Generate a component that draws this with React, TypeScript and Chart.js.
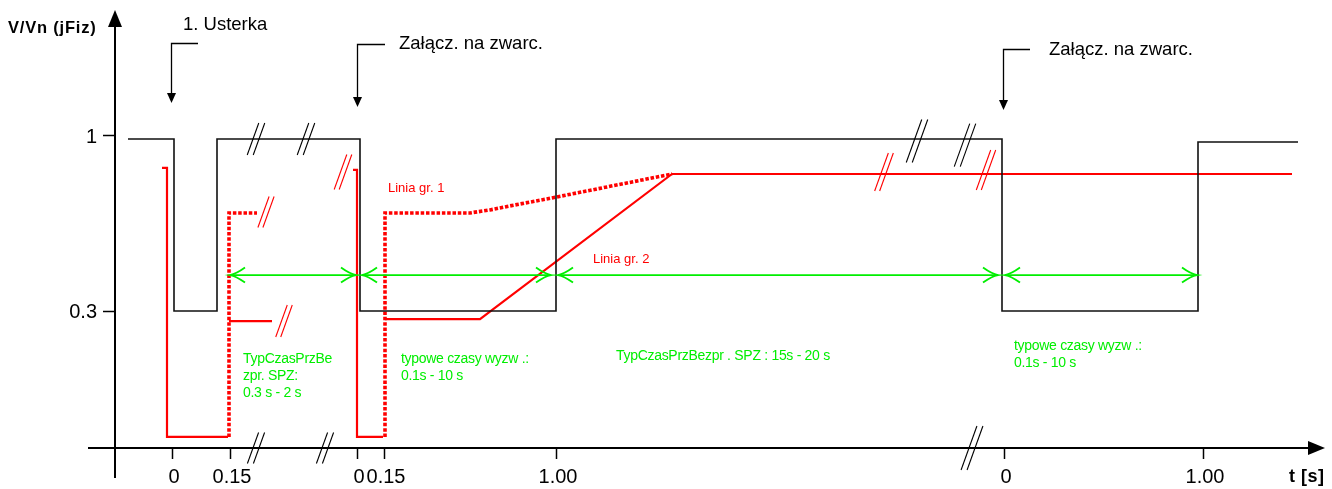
import React, { useEffect, useRef } from 'react';
import { Chart, registerables } from 'chart.js';

Chart.register(...registerables);

// Schematic (broken) time axis: position along the diagram, origin at the V/Vn axis.
// Vertical: V/Vn level.

// Voltage V/Vn (black)
const signalT = [13, 59, 59, 102, 102, 245, 245, 441, 441, 887, 887, 1083, 1083, 1183];
const signalV = [0.984, 0.984, 0.3, 0.3, 0.984, 0.984, 0.3, 0.3, 0.984, 0.984, 0.3, 0.3, 0.972, 0.972];

// Red: trip / limit lines
const trip1T = [47, 52, 52, 113];
const trip1V = [0.869, 0.869, -0.201, -0.201];
const reclose1T = [114, 114, 142];
const reclose1V = [-0.201, 0.69, 0.69];
const limit2aT = [114, 157];
const limit2aV = [0.26, 0.26];
const trip2T = [238, 242, 242, 268];
const trip2V = [0.861, 0.861, -0.201, -0.201];
const limit1T = [270, 270, 355, 375, 395, 441, 557];
const limit1V = [-0.201, 0.69, 0.69, 0.702, 0.718, 0.753, 0.845];
const limit2T = [270, 365, 557, 1177];
const limit2V = [0.268, 0.268, 0.845, 0.845];

// Green time spans
const spanStart = [115, 247, 443, 890];
const spanEnd = [241, 436, 883, 1082];
const spanLevel = 0.443;

// Axis ticks
const xTickPos = [57, 115, 242, 269, 441, 889, 1088];
const xTickLabels = ['0', '0.15', '0', '0.15', '1.00', '0', '1.00'];
const yTickValues = [1, 0.3];
const yTickLabels = ['1', '0.3'];
const axisLevel = -0.245;

// Break marks "//"
const breakBlackT = [141, 191, 802, 850, 141, 210, 857];
const breakBlackV = [0.984, 0.984, 0.976, 0.96, -0.245, -0.245, -0.245];
const breakBlackLen = [32, 32, 43, 43, 31, 31, 44];
const breakRedT = [228, 151, 169, 769, 871];
const breakRedV = [0.853, 0.694, 0.26, 0.853, 0.861];
const breakRedLen = [35, 31, 32, 38, 40];

// Callouts
const calloutT = [56, 242, 888];
const calloutV = [1.366, 1.362, 1.342];
const calloutTipV = [1.127, 1.111, 1.099];
const calloutArmT = [83, 270, 915];
const calloutText = ['1. Usterka', 'Załącz. na zwarc.', 'Załącz. na zwarc.'];
const calloutTextT = [68, 284, 934];
const calloutTextV = [1.418, 1.342, 1.318];

// Green notes
const noteLines = [
  'TypCzasPrzBe', 'zpr. SPZ:', '0.3 s - 2 s',
  'typowe czasy wyzw .:', '0.1s - 10 s',
  'TypCzasPrzBezpr . SPZ : 15s - 20 s',
  'typowe czasy wyzw .:', '0.1s - 10 s',
];
const noteT = [128, 128, 128, 286, 286, 501, 899, 899];
const noteV = [0.093, 0.025, -0.042, 0.093, 0.025, 0.105, 0.145, 0.077];

// Red labels
const redLabels = ['Linia gr. 1', 'Linia gr. 2'];
const redLabelT = [273, 478];
const redLabelV = [0.773, 0.491];

const FONT = '"Liberation Sans", Arial, sans-serif';
const RED = '#ff0000';
const GREEN = 'rgb(0,238,0)';

const pts = (t: number[], v: number[]) => t.map((x, i) => ({ x, y: v[i] }));

const overlay = {
  id: 'overlay',
  beforeDatasetsDraw(chart: any) {
    const { ctx } = chart;
    const sx = chart.scales.x;
    const sy = chart.scales.y;
    const X = (v: number) => sx.getPixelForValue(v);
    const Y = (v: number) => sy.getPixelForValue(v);
    ctx.save();
    ctx.strokeStyle = '#000';
    ctx.fillStyle = '#000';
    ctx.lineWidth = 2;
    const ay = Y(axisLevel);
    const xLeft = X(-27);
    const xRight = X(1210);
    ctx.beginPath();
    ctx.moveTo(xLeft, ay);
    ctx.lineTo(xRight - 14, ay);
    ctx.stroke();
    ctx.beginPath();
    ctx.moveTo(xRight, ay);
    ctx.lineTo(xRight - 17, ay - 7);
    ctx.lineTo(xRight - 17, ay + 7);
    ctx.closePath();
    ctx.fill();
    const ax = X(0);
    const yTop = Y(1.497);
    const yBot = Y(-0.364);
    ctx.beginPath();
    ctx.moveTo(ax, yBot);
    ctx.lineTo(ax, yTop + 14);
    ctx.stroke();
    ctx.beginPath();
    ctx.moveTo(ax, yTop);
    ctx.lineTo(ax - 7, yTop + 17);
    ctx.lineTo(ax + 7, yTop + 17);
    ctx.closePath();
    ctx.fill();

    // ticks
    ctx.lineWidth = 1.5;
    ctx.font = `20px ${FONT}`;
    ctx.textAlign = 'center';
    ctx.textBaseline = 'alphabetic';
    xTickPos.forEach((p, i) => {
      const px = Math.round(X(p)) + 0.5;
      ctx.beginPath();
      ctx.moveTo(px, ay);
      ctx.lineTo(px, ay + 11);
      ctx.stroke();
      ctx.fillText(xTickLabels[i], X(p) + 2, ay + 35);
    });
    ctx.textAlign = 'right';
    yTickValues.forEach((v, i) => {
      const py = Math.round(Y(v)) + 0.5;
      ctx.beginPath();
      ctx.moveTo(ax - 12, py);
      ctx.lineTo(ax, py);
      ctx.stroke();
      ctx.fillText(yTickLabels[i], ax - 18, Y(v) + 7.5);
    });

    // axis titles
    ctx.font = `bold 16.5px ${FONT}`;
    ctx.textAlign = 'left';
    (ctx as any).letterSpacing = '0.8px';
    ctx.fillText('V/Vn (jFiz)', X(-107), Y(1.406));
    (ctx as any).letterSpacing = '0.5px';
    ctx.font = `bold 18px ${FONT}`;
    ctx.fillText('t [s]', X(1174), Y(-0.38));
    (ctx as any).letterSpacing = '0px';
    ctx.restore();
  },
  afterDatasetsDraw(chart: any) {
    const { ctx } = chart;
    const sx = chart.scales.x;
    const sy = chart.scales.y;
    const X = (v: number) => sx.getPixelForValue(v);
    const Y = (v: number) => sy.getPixelForValue(v);
    ctx.save();

    // break marks
    const drawBreak = (t: number, v: number, len: number, color: string, gap: number) => {
      const cx = X(t);
      const cy = Y(v);
      const w = len * 0.36;
      ctx.strokeStyle = color;
      ctx.lineWidth = 1.1;
      [-gap / 2, gap / 2].forEach((o) => {
        ctx.beginPath();
        ctx.moveTo(cx + o - w / 2, cy + len / 2);
        ctx.lineTo(cx + o + w / 2, cy - len / 2);
        ctx.stroke();
      });
    };
    breakBlackT.forEach((t, i) => drawBreak(t, breakBlackV[i], breakBlackLen[i], '#000', 6));
    breakRedT.forEach((t, i) => drawBreak(t, breakRedV[i], breakRedLen[i], RED, 5));

    // green spans with open arrow heads
    ctx.strokeStyle = GREEN;
    ctx.lineWidth = 1.8;
    const gy = Y(spanLevel);
    spanStart.forEach((s, i) => {
      const a = X(s);
      const b = X(spanEnd[i]);
      ctx.beginPath();
      ctx.moveTo(a, gy);
      ctx.lineTo(b, gy);
      ctx.stroke();
      ctx.beginPath();
      ctx.moveTo(a + 15, gy - 7.5);
      ctx.quadraticCurveTo(a + 6, gy - 1, a, gy);
      ctx.quadraticCurveTo(a + 6, gy + 1, a + 15, gy + 7.5);
      ctx.stroke();
      ctx.beginPath();
      ctx.moveTo(b - 15, gy - 7.5);
      ctx.quadraticCurveTo(b - 6, gy - 1, b, gy);
      ctx.quadraticCurveTo(b - 6, gy + 1, b - 15, gy + 7.5);
      ctx.stroke();
    });

    // callouts
    ctx.strokeStyle = '#000';
    ctx.fillStyle = '#000';
    ctx.lineWidth = 1.3;
    calloutT.forEach((t, i) => {
      const cx = Math.round(X(t)) + 0.5;
      const cy = Math.round(Y(calloutV[i])) + 0.5;
      const tip = Y(calloutTipV[i]);
      ctx.beginPath();
      ctx.moveTo(X(calloutArmT[i]), cy);
      ctx.lineTo(cx, cy);
      ctx.lineTo(cx, tip - 6);
      ctx.stroke();
      ctx.beginPath();
      ctx.moveTo(cx, tip);
      ctx.lineTo(cx - 4.5, tip - 10);
      ctx.lineTo(cx + 4.5, tip - 10);
      ctx.closePath();
      ctx.fill();
    });
    ctx.font = `18.5px ${FONT}`;
    ctx.textAlign = 'left';
    ctx.textBaseline = 'alphabetic';
    calloutText.forEach((s, i) => {
      ctx.fillText(s, X(calloutTextT[i]), Y(calloutTextV[i]));
    });

    // green notes
    ctx.fillStyle = GREEN;
    ctx.font = `14px ${FONT}`;
    (ctx as any).letterSpacing = '-0.3px';
    noteLines.forEach((s, i) => {
      ctx.fillText(s, X(noteT[i]), Y(noteV[i]));
    });

    // red labels
    ctx.fillStyle = RED;
    ctx.font = `13px ${FONT}`;
    (ctx as any).letterSpacing = '0px';
    redLabels.forEach((s, i) => {
      ctx.fillText(s, X(redLabelT[i]), Y(redLabelV[i]));
    });
    ctx.restore();
  },
};

export default function App() {
  const ref = useRef<HTMLCanvasElement | null>(null);
  useEffect(() => {
    if (!ref.current) return;
    const solid = (t: number[], v: number[], color: string, width: number) => ({
      data: pts(t, v),
      borderColor: color,
      borderWidth: width,
      pointRadius: 0,
      tension: 0,
      fill: false,
      showLine: true,
    });
    const dotted = (t: number[], v: number[]) => ({
      ...solid(t, v, RED, 3.6),
      borderDash: [3.5, 1.8],
    });
    const chart = new Chart(ref.current, {
      type: 'line',
      data: {
        datasets: [
          solid(signalT, signalV, '#111', 1.6),
          solid(trip1T, trip1V, RED, 2.2),
          dotted(reclose1T, reclose1V),
          solid(limit2aT, limit2aV, RED, 2.2),
          solid(trip2T, trip2V, RED, 2.2),
          solid(limit2T, limit2V, RED, 2.2),
          dotted(limit1T, limit1V),
        ] as any,
      },
      options: {
        animation: false,
        responsive: false,
        maintainAspectRatio: false,
        devicePixelRatio: 1,
        layout: { padding: 0 },
        plugins: { legend: { display: false }, tooltip: { enabled: false } },
        events: [],
        scales: {
          x: { type: 'linear', display: false, min: -115, max: 1217 },
          y: { type: 'linear', display: false, min: -0.408, max: 1.537 },
        },
      },
      plugins: [overlay],
    });
    return () => chart.destroy();
  }, []);
  return (
    <div style={{ position: 'fixed', left: 0, top: 0, width: 1332, height: 489, background: '#fff' }}>
      <canvas ref={ref} width={1332} height={489} style={{ display: 'block' }} />
    </div>
  );
}
